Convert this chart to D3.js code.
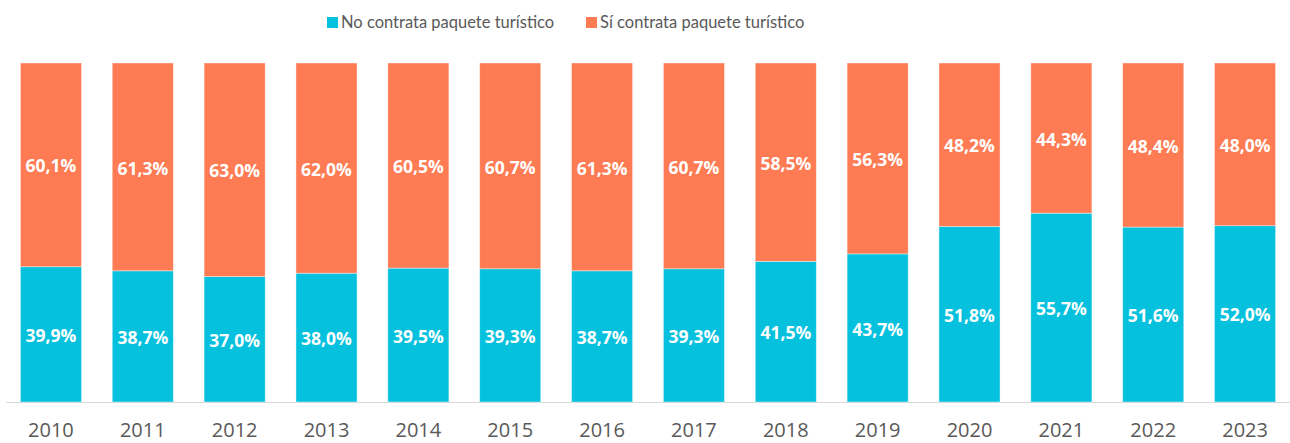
<!DOCTYPE html>
<html>
<head>
<meta charset="utf-8">
<script src="https://cdn.jsdelivr.net/npm/d3@7"></script>
<style>
  body { margin: 0; background: #fff; }
  svg { display: block; font-family: "Open Sans", sans-serif; }
</style>
</head>
<body>
<div id="chart"></div>
<script>
var years = ["2010","2011","2012","2013","2014","2015","2016","2017","2018","2019","2020","2021","2022","2023"];
var noContrata = [39.9, 38.7, 37.0, 38.0, 39.5, 39.3, 38.7, 39.3, 41.5, 43.7, 51.8, 55.7, 51.6, 52.0];
var siContrata = [60.1, 61.3, 63.0, 62.0, 60.5, 60.7, 61.3, 60.7, 58.5, 56.3, 48.2, 44.3, 48.4, 48.0];
var seriesNames = ["No contrata paquete turístico", "Sí contrata paquete turístico"];
var colors = ["#06C1DE", "#FF7B53"];

function init() {
    var w = 1290, h = 443;
    var top = 63, bottom = 402;

    var svg = d3.select("#chart").append("svg")
        .attr("width", w).attr("height", h);

    var x = d3.scaleBand().domain(years).range([5, 1291]).paddingInner(0.335).paddingOuter(0.1675);
    var y = d3.scaleLinear().domain([0, 100]).range([bottom, top]);

    // build stacked rows
    var rows = years.map(function (yr, i) {
        return { year: yr, no: noContrata[i], si: siContrata[i] };
    });
    var stack = d3.stack().keys(["no", "si"]);
    var layers = stack(rows);

    var g = svg.selectAll("g.layer")
        .data(layers)
        .enter().append("g")
        .attr("class", "layer")
        .attr("fill", function (d, i) { return colors[i]; });

    g.selectAll("rect")
        .data(function (d) { return d; })
        .enter().append("rect")
        .attr("x", function (d) { return x(d.data.year); })
        .attr("width", x.bandwidth())
        .attr("y", function (d) { return y(d[1]); })
        .attr("height", function (d) { return y(d[0]) - y(d[1]); })
        .attr("stroke", "#ffffff")
        .attr("stroke-opacity", 0.5)
        .attr("stroke-width", 0.8);

    // data labels
    g.selectAll("text")
        .data(function (d) { return d; })
        .enter().append("text")
        .attr("x", function (d) { return x(d.data.year) + x.bandwidth() / 2; })
        .attr("y", function (d) { return (y(d[0]) + y(d[1])) / 2 + 1.5; })
        .attr("dy", "0.35em")
        .attr("text-anchor", "middle")
        .attr("fill", "#ffffff")
        .attr("font-weight", "bold")
        .attr("font-size", "17.5px")
        .text(function (d) { return (d[1] - d[0]).toFixed(1).replace(".", ",") + "%"; });

    // x axis
    var xAxis = svg.append("g")
        .attr("transform", "translate(0," + bottom + ")")
        .call(d3.axisBottom(x).tickSize(0).tickPadding(21));
    xAxis.select(".domain").attr("stroke", "#d9d9d9").attr("d", "M6,0.5H1290");
    xAxis.selectAll("text")
        .attr("fill", "#595959")
        .attr("font-size", "20px")
        .attr("font-family", "Open Sans, sans-serif");

    // legend
    var legendX = [327, 586];
    var leg = svg.selectAll("g.legend")
        .data(seriesNames)
        .enter().append("g")
        .attr("class", "legend")
        .attr("transform", function (d, i) { return "translate(" + legendX[i] + ",17)"; });
    leg.append("rect")
        .attr("width", 11).attr("height", 11)
        .attr("fill", function (d, i) { return colors[i]; });
    leg.append("text")
        .attr("x", 14).attr("y", 5.5)
        .attr("dy", "0.35em")
        .attr("fill", "#595959")
        .attr("font-size", "16.5px")
        .attr("font-family", "Lato, sans-serif")
        .text(function (d) { return d; });
}

window.onload = init;
</script>
</body>
</html>
